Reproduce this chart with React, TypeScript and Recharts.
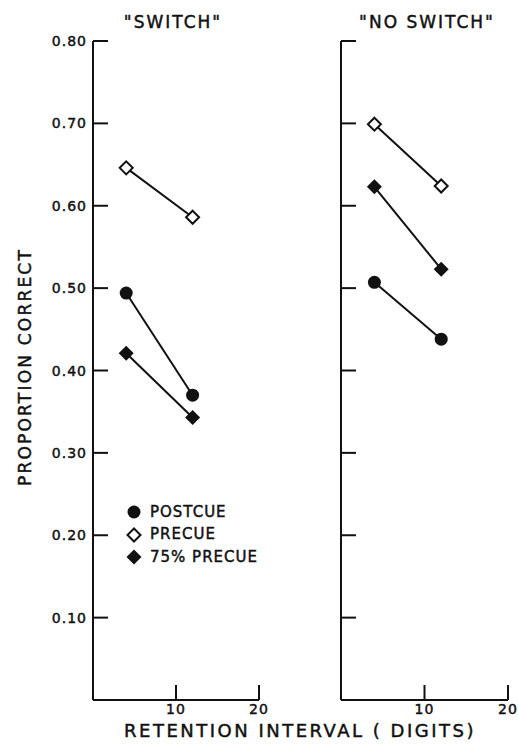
import React from 'react';
import { LineChart, Line, XAxis, YAxis, Legend } from 'recharts';

// Retention interval (digits) for the two measured points
const retention = [4, 12];

// "SWITCH" panel
const switchPostcue = [0.494, 0.37];
const switchPrecue = [0.646, 0.586];
const switch75 = [0.421, 0.343];

// "NO SWITCH" panel
const noSwitchPostcue = [0.507, 0.438];
const noSwitchPrecue = [0.699, 0.624];
const noSwitch75 = [0.623, 0.523];

const yTicks = [0.1, 0.2, 0.3, 0.4, 0.5, 0.6, 0.7, 0.8];
const xTicks = [10, 20];
const panelTitles = ['"SWITCH"', '"NO SWITCH"'];
const seriesNames = ['POSTCUE', 'PRECUE', '75% PRECUE'];
const seriesKeys = ['postcue', 'precue', 'p75'];
const xTitle = 'RETENTION INTERVAL ( DIGITS)';
const yTitle = 'PROPORTION CORRECT';

const build = (post: number[], pre: number[], p75: number[]) =>
  retention.map((x, i) => ({ x, postcue: post[i], precue: pre[i], p75: p75[i] }));

const switchData = build(switchPostcue, switchPrecue, switch75);
const noSwitchData = build(noSwitchPostcue, noSwitchPrecue, noSwitch75);

const FONT = "'DejaVu Sans', sans-serif";
const INK = '#111';
const TEXT_STROKE = 0.45;

const Marker = ({ kind, cx, cy }: { kind: string; cx: number; cy: number }) => {
  if (kind === 'postcue') return <circle cx={cx} cy={cy} r={6.5} fill={INK} />;
  const d = kind === 'precue' ? 6.5 : 7.5;
  const pts = `${cx},${cy - d} ${cx + d},${cy} ${cx},${cy + d} ${cx - d},${cy}`;
  return kind === 'precue' ? (
    <polygon points={pts} fill="#fff" stroke={INK} strokeWidth={2} />
  ) : (
    <polygon points={pts} fill={INK} />
  );
};

const makeDot = (kind: string) => (p: any) => (
  <g key={`${kind}-${p.index}`}>
    <Marker kind={kind} cx={p.cx} cy={p.cy} />
  </g>
);

const YTick = (showLabel: boolean) => (p: any) => {
  const { x, y, payload } = p;
  return (
    <g>
      <line x1={x} y1={y} x2={x + 15} y2={y} stroke={INK} strokeWidth={2} />
      {showLabel && (
        <text
          x={x - 6}
          y={y}
          textAnchor="end"
          dominantBaseline="central"
          fontFamily={FONT}
          fontSize={14}
          letterSpacing={1}
          fill={INK}
          stroke={INK}
          strokeWidth={TEXT_STROKE}
        >
          {Number(payload.value).toFixed(2)}
        </text>
      )}
    </g>
  );
};

const XTick = (p: any) => {
  const { x, y, payload } = p;
  return (
    <g>
      <line x1={x} y1={y} x2={x} y2={y - 15} stroke={INK} strokeWidth={2} />
      <text
        x={x}
        y={y + 9}
        textAnchor="middle"
        dominantBaseline="central"
        fontFamily={FONT}
        fontSize={14}
        letterSpacing={1}
        fill={INK}
        stroke={INK}
        strokeWidth={TEXT_STROKE}
      >
        {payload.value}
      </text>
    </g>
  );
};

const LegendContent = (props: any) => {
  const payload = [...(props.payload || [])].sort(
    (a: any, b: any) => seriesKeys.indexOf(a.dataKey) - seriesKeys.indexOf(b.dataKey)
  );
  return (
    <div style={{ fontFamily: FONT }}>
      {payload.map((item: any) => (
        <div key={item.dataKey} style={{ display: 'flex', alignItems: 'center', height: 22.5 }}>
          <svg width={18} height={18} style={{ marginRight: 7 }}>
            <Marker kind={item.dataKey} cx={9} cy={9} />
          </svg>
          <span
            style={{
              fontSize: 15,
              letterSpacing: 1,
              color: INK,
              lineHeight: '15px',
              WebkitTextStroke: `${TEXT_STROKE}px ${INK}`,
            }}
          >
            {item.value}
          </span>
        </div>
      ))}
    </div>
  );
};

const Panel = ({
  data,
  yAxisWidth,
  width,
  showLabels,
  showLegend,
  marginRight,
}: {
  data: any[];
  yAxisWidth: number;
  width: number;
  showLabels: boolean;
  showLegend: boolean;
  marginRight: number;
}) => (
  <LineChart width={width} height={746} data={data} margin={{ top: 41, right: marginRight, bottom: 16, left: 0 }}>
    <XAxis
      type="number"
      dataKey="x"
      domain={[0, 20]}
      ticks={xTicks}
      interval={0}
      height={30}
      tickSize={0}
      tickMargin={0}
      tickLine={false}
      axisLine={{ stroke: INK, strokeWidth: 2 }}
      tick={XTick}
    />
    <YAxis
      type="number"
      domain={[0, 0.8]}
      ticks={yTicks}
      interval={0}
      width={yAxisWidth}
      tickSize={0}
      tickMargin={0}
      tickLine={false}
      axisLine={{ stroke: INK, strokeWidth: 2 }}
      tick={YTick(showLabels)}
    />
    {seriesKeys.map((k, i) => (
      <Line
        key={k}
        dataKey={k}
        name={seriesNames[i]}
        stroke={INK}
        strokeWidth={2}
        dot={makeDot(k)}
        activeDot={false}
        isAnimationActive={false}
        legendType="none"
      />
    ))}
    {showLegend && (
      <Legend
        layout="vertical"
        align="center"
        verticalAlign="middle"
        content={LegendContent}
        wrapperStyle={{ left: 125, top: 501, width: 160, height: 70 }}
      />
    )}
  </LineChart>
);

export default function App() {
  return (
    <div style={{ position: 'absolute', left: 0, top: 0, width: 518, height: 746, background: '#fff' }}>
      <div style={{ position: 'absolute', left: 0, top: 0 }}>
        <Panel data={switchData} yAxisWidth={93} width={275} showLabels={true} showLegend={true} marginRight={16} />
      </div>
      <div style={{ position: 'absolute', left: 275, top: 0 }}>
        <Panel data={noSwitchData} yAxisWidth={66} width={243} showLabels={false} showLegend={false} marginRight={10} />
      </div>
      <svg width={518} height={746} style={{ position: 'absolute', left: 0, top: 0, pointerEvents: 'none' }}>
        <g fontFamily={FONT} fill={INK} stroke={INK} strokeWidth={TEXT_STROKE}>
          <text x={173} y={22} textAnchor="middle" dominantBaseline="central" fontSize={17} letterSpacing={2}>
            {panelTitles[0]}
          </text>
          <text x={427} y={22} textAnchor="middle" dominantBaseline="central" fontSize={17} letterSpacing={2}>
            {panelTitles[1]}
          </text>
          <text x={300} y={730} textAnchor="middle" dominantBaseline="central" fontSize={18} letterSpacing={2.5}>
            {xTitle}
          </text>
          <text
            x={25}
            y={367}
            textAnchor="middle"
            dominantBaseline="central"
            fontSize={17}
            letterSpacing={2.2}
            transform="rotate(-90 25 367)"
          >
            {yTitle}
          </text>
        </g>
      </svg>
    </div>
  );
}
